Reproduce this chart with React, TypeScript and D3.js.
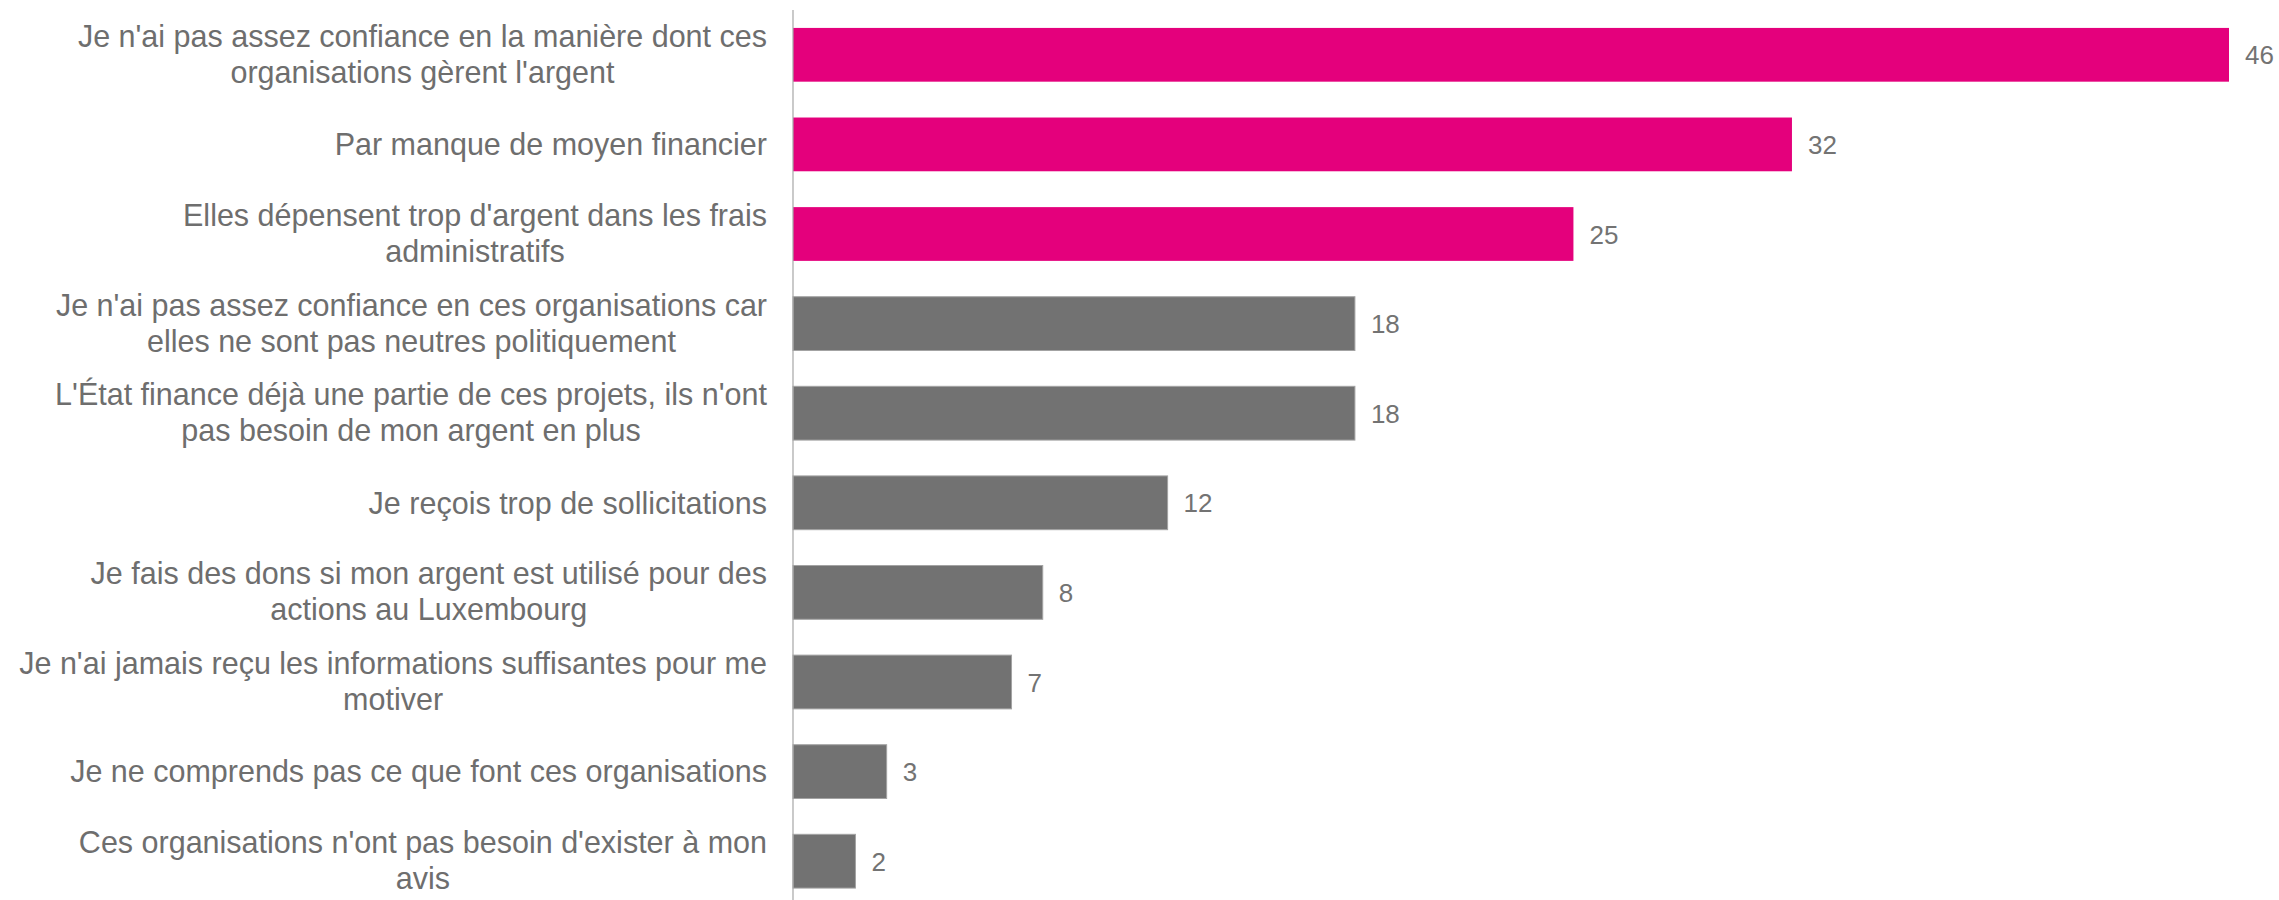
import React from "react";
import * as d3 from "d3";

const categories: string[] = [
  "Je n'ai pas assez confiance en la manière dont ces\norganisations gèrent l'argent",
  "Par manque de moyen financier",
  "Elles dépensent trop d'argent dans les frais\nadministratifs",
  "Je n'ai pas assez confiance en ces organisations car\nelles ne sont pas neutres politiquement",
  "L'État finance déjà une partie de ces projets, ils n'ont\npas besoin de mon argent en plus",
  "Je reçois trop de sollicitations",
  "Je fais des dons si mon argent est utilisé pour des\nactions au Luxembourg",
  "Je n'ai jamais reçu les informations suffisantes pour me\nmotiver",
  "Je ne comprends pas ce que font ces organisations",
  "Ces organisations n'ont pas besoin d'exister à mon\navis",
];
const values: number[] = [46, 32, 25, 18, 18, 12, 8, 7, 3, 2];
const highlighted: boolean[] = [true, true, true, false, false, false, false, false, false, false];

const W = 2279;
const H = 900;
const AXIS_X = 793;
const LABEL_RIGHT = 767;
const PINK = "#E4007C";
const GREY = "#727272";
const TEXT = "#6e6e6e";
const LABEL_FONT = "30.5px 'Liberation Sans', Arial, sans-serif";

let ctx: CanvasRenderingContext2D | null = null;
function measure(s: string): number {
  if (!ctx) ctx = document.createElement("canvas").getContext("2d");
  if (!ctx) return s.length * 15;
  ctx.font = LABEL_FONT;
  return ctx.measureText(s).width;
}

export default function App() {
  const x = d3.scaleLinear().domain([0, 46]).range([AXIS_X, 2229]);
  const y = d3
    .scaleBand<string>()
    .domain(categories)
    .range([10, 906])
    .paddingInner(0.4)
    .paddingOuter(0.2);
  const bw = y.bandwidth();

  return (
    <svg
      width={W}
      height={H}
      style={{ position: "absolute", left: 0, top: 0, background: "#fff" }}
      fontFamily="'Liberation Sans', Arial, sans-serif"
    >
      {categories.map((c, i) => {
        const y0 = y(c)!;
        const cy = y0 + bw / 2;
        const lines = c.split("\n");
        const maxW = Math.max(...lines.map(measure));
        const cx = LABEL_RIGHT - maxW / 2;
        const v = values[i];
        return (
          <g key={i}>
            <rect
              x={x(0)}
              y={y0}
              width={x(v) - x(0)}
              height={bw}
              fill={highlighted[i] ? PINK : GREY}
              stroke={highlighted[i] ? "none" : "#a3a3a3"}
              strokeWidth={1}
            />
            <text x={x(v) + 16} y={cy + 9.5} fontSize={26} fill="#737373">
              {v}
            </text>
            {lines.map((ln, j) => {
              const base = lines.length === 1 ? 10.8 : j === 0 ? -8 : 28;
              return (
                <text
                  key={j}
                  x={cx}
                  y={cy + base}
                  textAnchor="middle"
                  fontSize={30.5}
                  fill={TEXT}
                >
                  {ln}
                </text>
              );
            })}
          </g>
        );
      })}
      <line x1={AXIS_X} x2={AXIS_X} y1={10} y2={H} stroke="#a6a6a6" strokeWidth={1.2} />
    </svg>
  );
}
